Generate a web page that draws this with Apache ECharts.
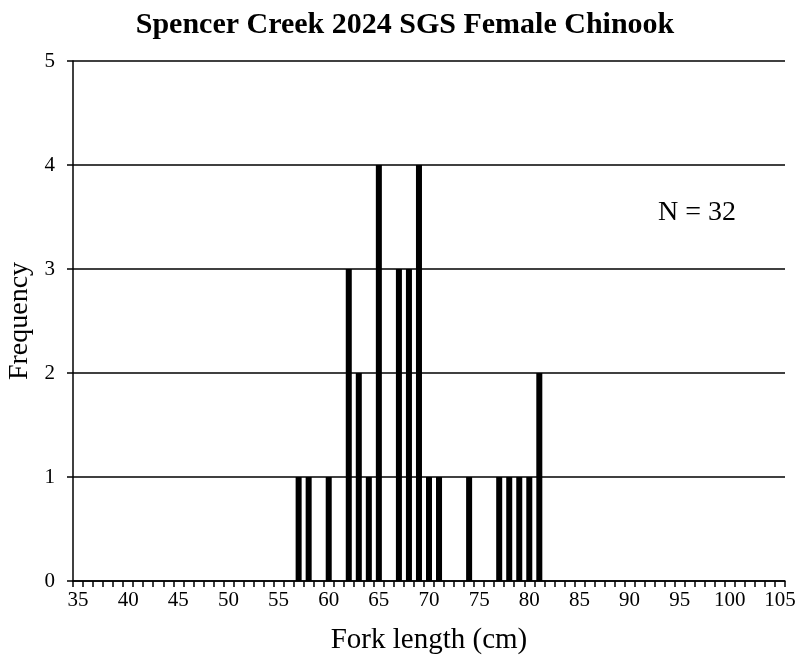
<!DOCTYPE html>
<html>
<head>
<meta charset="utf-8">
<script src="https://cdn.jsdelivr.net/npm/echarts@6/dist/echarts.min.js"></script>
<style>
  html, body { margin: 0; padding: 0; background: #fff; }
  #main { width: 800px; height: 666px; }
</style>
</head>
<body>
<div id="main"></div>
<script>
// fork lengths 35..105 cm, one category per cm
var lengths = [];
for (var l = 35; l <= 105; l++) lengths.push(String(l));

// measured fish (cm) and how many at each length
var fishLengths = [57, 58, 60, 62, 63, 64, 65, 67, 68, 69, 70, 71, 74, 77, 78, 79, 80, 81];
var fishCounts  = [1, 1, 1, 3, 2, 1, 4, 3, 3, 4, 1, 1, 1, 1, 1, 1, 1, 2];

var freqTicks = [0, 1, 2, 3, 4, 5];

var frequency = lengths.map(function (c) {
  var i = fishLengths.indexOf(Number(c));
  return i >= 0 ? fishCounts[i] : 0;
});

var font = "'Liberation Serif', 'Times New Roman', serif";
var chart = echarts.init(document.getElementById("main"));
chart.setOption({
  animation: false,
  title: {
    text: "Spencer Creek 2024 SGS Female Chinook",
    left: 400,
    textAlign: "center",
    top: 5,
    textStyle: { fontFamily: font, fontSize: 30, fontWeight: "bold", color: "#000" }
  },
  grid: { left: 73, right: 15, top: 61, bottom: 85, containLabel: false, outerBoundsMode: "none" },
  xAxis: {
    type: "category",
    data: lengths,
    boundaryGap: true,
    name: "Fork length (cm)",
    nameLocation: "middle",
    nameGap: 45,
    nameTextStyle: { fontFamily: font, fontSize: 29, color: "#000" },
    axisLine: { lineStyle: { color: "#000", width: 1.5 } },
    axisTick: { show: true, interval: 0, length: 6, lineStyle: { color: "#000", width: 1.5 } },
    axisLabel: {
      interval: function (idx) { return idx % 5 === 0; },
      fontFamily: font, fontSize: 21, color: "#000", margin: 9
    },
    splitLine: { show: false }
  },
  yAxis: {
    type: "value",
    min: freqTicks[0],
    max: freqTicks[freqTicks.length - 1],
    interval: 1,
    name: "Frequency",
    nameLocation: "middle",
    nameGap: 38,
    nameTextStyle: { fontFamily: font, fontSize: 28, color: "#000" },
    axisLine: { show: true, lineStyle: { color: "#000", width: 1.5 } },
    axisTick: { show: true, length: 6, lineStyle: { color: "#000", width: 1.5 } },
    axisLabel: { fontFamily: font, fontSize: 21, color: "#000", margin: 18 },
    splitLine: { show: true, lineStyle: { color: "#000", width: 1.5 } }
  },
  graphic: [{
    type: "text",
    left: 658,
    top: 199,
    style: { text: "N = 32", font: "28px " + font, fill: "#000" }
  }],
  series: [{
    type: "bar",
    data: frequency,
    barCategoryGap: "40%",
    itemStyle: { color: "#000" }
  }]
});
</script>
</body>
</html>
